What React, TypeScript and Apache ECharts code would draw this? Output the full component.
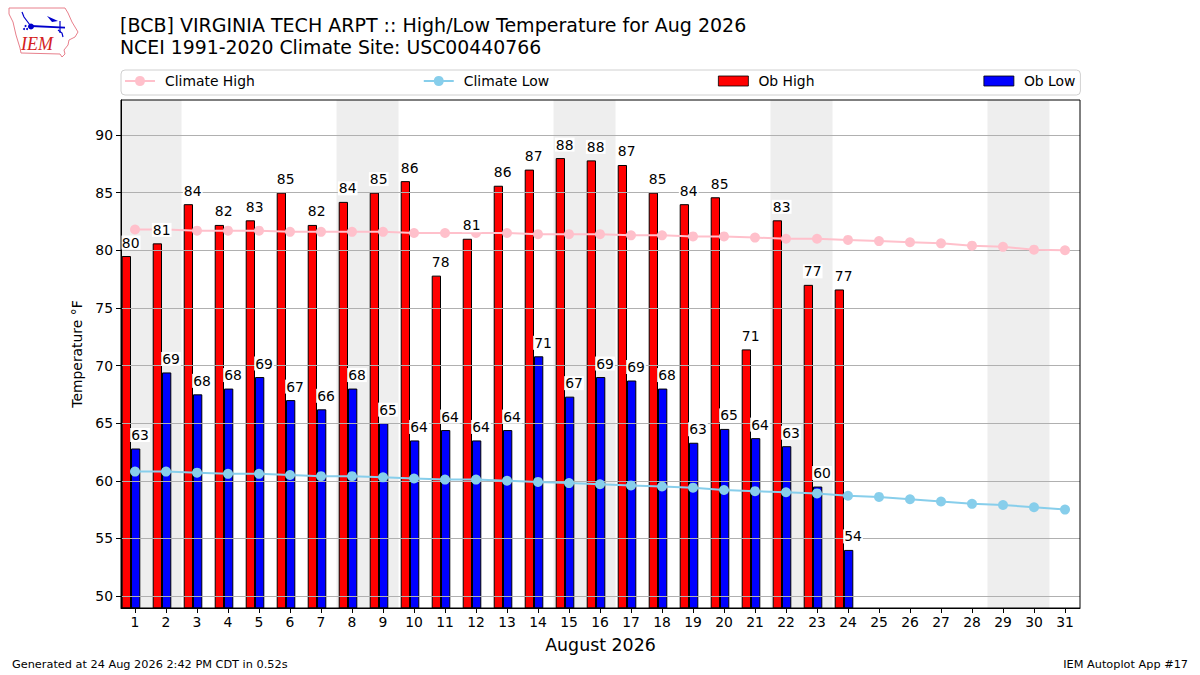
import React, { useEffect, useRef } from "react";
import * as echarts from "echarts";

const days = [1,2,3,4,5,6,7,8,9,10,11,12,13,14,15,16,17,18,19,20,21,22,23,24,25,26,27,28,29,30,31];
const obHigh = [79.5,80.6,84,82.2,82.6,85,82.2,84.2,85,86,77.8,81,85.6,87,88,87.8,87.4,85,84,84.6,71.4,82.6,77,76.6];
const obLow = [62.8,69.4,67.5,68,69,67,66.2,68,65,63.5,64.4,63.5,64.4,70.8,67.3,69,68.7,68,63.3,64.5,63.7,63,59.5,54];
const climateHigh = [81.8,81.8,81.7,81.7,81.7,81.6,81.6,81.6,81.6,81.5,81.5,81.5,81.5,81.4,81.4,81.4,81.3,81.3,81.2,81.2,81.1,81,81,80.9,80.8,80.7,80.6,80.4,80.3,80.05,80];
const climateLow = [60.8,60.8,60.7,60.6,60.6,60.5,60.4,60.4,60.3,60.2,60.1,60.1,60,59.9,59.8,59.7,59.6,59.5,59.4,59.2,59.1,59,58.9,58.7,58.6,58.4,58.2,58,57.9,57.7,57.5];
const weekends = [[0.5,2.5],[7.5,9.5],[14.5,16.5],[21.5,23.5],[28.5,30.5]];
const yTicks = [50,55,60,65,70,75,80,85,90];
const titleLine = "[BCB] VIRGINIA TECH ARPT :: High/Low Temperature for Aug 2026";
const subtitleLine = "NCEI 1991-2020 Climate Site: USC00440766";

const FONT = "DejaVu Sans";
const LINE_ICON = "path://M0 4H10.1A5 5 0 0 1 19.9 4H30V6H19.9A5 5 0 0 1 10.1 6H0Z";

export default function App() {
  const ref = useRef<HTMLDivElement>(null);
  useEffect(() => {
    const chart = echarts.init(ref.current!, undefined, { renderer: "svg" });
    const pair = (a: number[]) => a.map((v, i) => [days[i], v]);
    const labelSeries = (name: string, vals: number[], dx: number) => ({
      name, type: "scatter", data: pair(vals), symbolSize: 1, z: 6, silent: true,
      itemStyle: { color: "transparent" },
      label: {
        show: true, position: "top", distance: 6, offset: [dx, 0],
        formatter: (p: any) => String(Math.round(p.value[1])),
        color: "#000", fontFamily: FONT, fontSize: 13.9,
        textBorderWidth: 0, textBorderColor: "transparent", opacity: 1,
        backgroundColor: "#fff", padding: [0, 1, 0, 1],
      },
    });
    const barBorder = { borderColor: "#000", borderWidth: 1 };
    const legendRect = (color: string) => ({ color, borderColor: "#000", borderWidth: 0.8, borderJoin: "miter", borderCap: "butt" });
    chart.setOption({
      animation: false,
      backgroundColor: "#fff",
      title: {
        text: titleLine, subtext: subtitleLine, left: 120, top: 13, padding: 0, itemGap: 0,
        textStyle: { fontFamily: FONT, fontSize: 19.03, fontWeight: "normal", color: "#000", lineHeight: 23 },
        subtextStyle: { fontFamily: FONT, fontSize: 18.85, color: "#000", lineHeight: 23 },
      },
      legend: {
        left: 121, top: 70, padding: [4, 5, 7, 4], itemGap: 169, itemWidth: 30, itemHeight: 10,
        borderColor: "#d0d0d0", borderWidth: 1, borderRadius: 4, backgroundColor: "#fff",
        textStyle: { fontFamily: FONT, fontSize: 13.9, color: "#000", padding: [0, 0, 0, 5] },
        data: [
          { name: "Climate High", icon: LINE_ICON, itemStyle: { color: "#ffc0cb", borderWidth: 0 } },
          { name: "Climate Low", icon: LINE_ICON, itemStyle: { color: "#87ceeb", borderWidth: 0 } },
          { name: "Ob High", icon: "rect", itemStyle: legendRect("#ff0000") },
          { name: "Ob Low", icon: "rect", itemStyle: legendRect("#0000ff") },
        ],
      },
      grid: { left: 121, top: 100, width: 959, height: 508 },
      xAxis: {
        type: "value", min: 0.548, max: 31.484, z: 3,
        name: "August 2026", nameLocation: "middle", nameGap: 28,
        nameTextStyle: { fontFamily: FONT, fontSize: 17.4, color: "#000" },
        axisLine: { show: true, onZero: false, lineStyle: { color: "#000", width: 1 } },
        axisTick: { show: true, customValues: days, length: 5, lineStyle: { color: "#000" } },
        axisLabel: { customValues: days, fontFamily: FONT, fontSize: 13.9, color: "#000", margin: 7, formatter: (v: number) => String(v) },
        splitLine: { show: false },
      },
      yAxis: {
        type: "value", min: 48.96, max: 93.04, z: 3,
        name: "Temperature °F", nameLocation: "middle", nameGap: 33,
        nameTextStyle: { fontFamily: FONT, fontSize: 13.9, color: "#000" },
        axisLine: { show: true, lineStyle: { color: "#000", width: 1 } },
        axisTick: { show: true, customValues: yTicks, length: 5, lineStyle: { color: "#000" } },
        axisLabel: { customValues: yTicks, fontFamily: FONT, fontSize: 13.9, color: "#000", margin: 8, formatter: (v: number) => String(v) },
        splitLine: { show: true, lineStyle: { color: "#b0b0b0", width: 1 } },
      },
      series: [
        {
          name: "Ob High", type: "bar", data: pair(obHigh), barWidth: 9.3, barGap: 0, z: 2,
          itemStyle: { color: "#ff0000", ...barBorder },
          markArea: {
            silent: true, z: 1,
            itemStyle: { color: "#eeeeee", borderWidth: 0 },
            data: weekends.map(([a, b]) => [{ xAxis: a }, { xAxis: b }]),
          },
        },
        { name: "Ob Low", type: "bar", data: pair(obLow), barWidth: 9.3, barGap: 0, z: 2, itemStyle: { color: "#0000ff", ...barBorder } },
        { name: "spacer", type: "bar", data: [], barWidth: 8, barGap: 0, z: 2 },
        {
          name: "Climate High", type: "line", data: pair(climateHigh), z: 4, symbol: "circle", symbolSize: 10, showSymbol: true,
          lineStyle: { color: "#ffc0cb", width: 2 }, itemStyle: { color: "#ffc0cb" },
        },
        {
          name: "Climate Low", type: "line", data: pair(climateLow), z: 4, symbol: "circle", symbolSize: 10, showSymbol: true,
          lineStyle: { color: "#87ceeb", width: 2 }, itemStyle: { color: "#87ceeb" },
        },
        labelSeries("Ob High labels", obHigh, -4.3),
        labelSeries("Ob Low labels", obLow, 5),
      ],
      graphic: [
        { type: "rect", z: 10, silent: true, shape: { x: 121, y: 100, width: 959, height: 508 }, style: { fill: "none", stroke: "#000", lineWidth: 1 } },
        { type: "text", left: 12, top: 659, style: { text: "Generated at 24 Aug 2026 2:42 PM CDT in 0.52s", font: `11.3px '${FONT}'`, fill: "#000" } },
        { type: "text", right: 12, top: 659, style: { text: "IEM Autoplot App #17", font: `11.3px '${FONT}'`, fill: "#000" } },
        { type: "polygon", silent: true, shape: { points: [[9,8],[65,8],[68,13],[72,22],[78,32],[75,37],[69,40],[68,45],[64,50],[65,54],[62,57],[60,54],[21,53],[20,48],[16,35],[13,22],[9,14]] }, style: { fill: "#fff", stroke: "#e8808c", lineWidth: 1 } },
        { type: "polyline", silent: true, shape: { points: [[31,26],[65,27.7]] }, style: { stroke: "#0000cc", lineWidth: 1.8, fill: "none" } },
        { type: "polyline", silent: true, shape: { points: [[60,21],[60,33]] }, style: { stroke: "#0000cc", lineWidth: 1.2, fill: "none" } },
        { type: "polyline", silent: true, shape: { points: [[22,12],[24,17],[30,25]] }, style: { stroke: "#0000cc", lineWidth: 1.2, fill: "none" } },
        { type: "polyline", silent: true, shape: { points: [[58,30],[62,33],[63,37]] }, style: { stroke: "#0000cc", lineWidth: 1.2, fill: "none" } },
        { type: "polygon", silent: true, shape: { points: [[47,16],[58,21],[52,22]] }, style: { fill: "#0000cc" } },
        { type: "circle", silent: true, shape: { cx: 31, cy: 26.5, r: 3 }, style: { fill: "#0000cc" } },
        { type: "circle", silent: true, shape: { cx: 24, cy: 29, r: 1 }, style: { fill: "#0000cc" } },
        { type: "circle", silent: true, shape: { cx: 27, cy: 29, r: 1 }, style: { fill: "#0000cc" } },
        { type: "circle", silent: true, shape: { cx: 25.5, cy: 26, r: 1 }, style: { fill: "#0000cc" } },
        { type: "text", silent: true, x: 21, y: 35, style: { text: "IEM", font: "italic 18px 'Liberation Serif'", fill: "#d42020" } },
      ],
    });
    return () => chart.dispose();
  }, []);
  return <div ref={ref} style={{ position: "fixed", left: 0, top: 0, width: 1200, height: 675 }} />;
}
